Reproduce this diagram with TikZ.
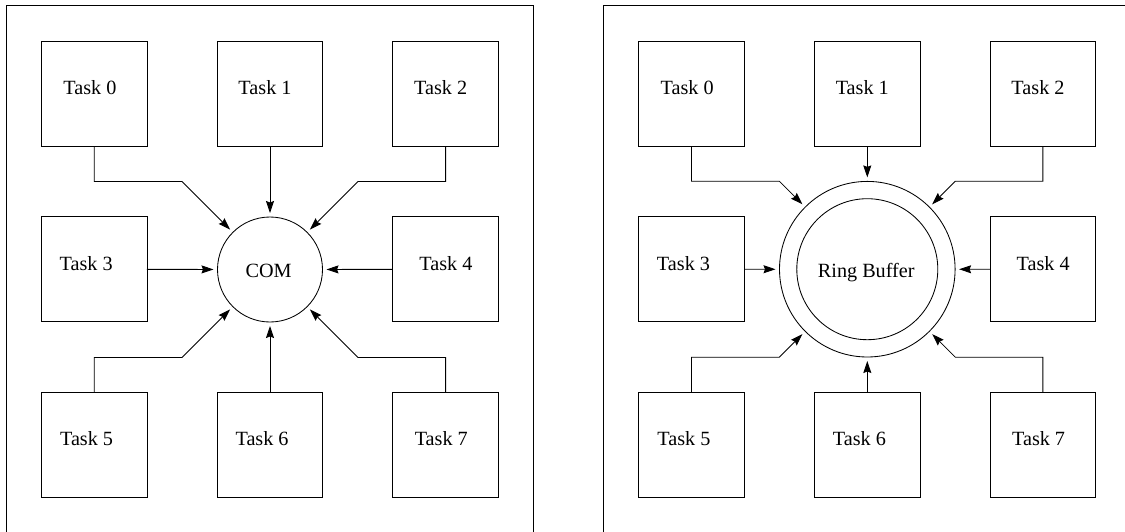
\documentclass[tikz,border=0pt]{standalone}
\usepackage{fontspec}
\setmainfont{Liberation Serif}
\usetikzlibrary{arrows.meta,calc}
\begin{document}
\begin{tikzpicture}[x=1pt,y=-1pt,line width=0.85pt,
  box/.style={draw,minimum width=105.5pt,minimum height=105pt,inner sep=0pt,outer sep=0pt},
  hub/.style={draw,circle,inner sep=0pt,outer sep=0pt},
  lbl/.style={inner sep=0pt,anchor=base west,font=\fontsize{20.2}{24}\selectfont},
  arr/.style={-{Stealth[length=12pt,width=8pt,inset=1.5pt]},shorten >=4pt}]
\clip (0,0) rectangle (1125,531);
% panel frames
\draw (6,5.3) rectangle (533.3,570);
\draw (603.3,5.3) rectangle (1140,570);
% hubs
\node[hub,minimum size=105pt] (com) at (270,269.5) {};
\node[hub,minimum size=175.6pt] (ring) at (867.3,269.2) {};
\node[hub,minimum size=141pt] (ringin) at (867.3,269.2) {};
\node[lbl] (comtxt) at (245.2,277) {COM};
\node[lbl] (ringtxt) at (817.5,277) {Ring Buffer};
% task boxes and labels
\foreach \p/\dx in {t/0,r/597.3}{
  \node[box] (\p0) at (94.2+\dx,93.6) {};
  \node[box] (\p1) at (270+\dx,93.6) {};
  \node[box] (\p2) at (445.6+\dx,93.6) {};
  \node[box] (\p3) at (94.2+\dx,269.3) {};
  \node[box] (\p4) at (445.6+\dx,269.3) {};
  \node[box] (\p5) at (94.2+\dx,445.1) {};
  \node[box] (\p6) at (270+\dx,445.1) {};
  \node[box] (\p7) at (445.6+\dx,445.1) {};
  \node[lbl] (\p-l0) at ($(\p0.west)+(21.5,0.5)$) {Task 0};
  \node[lbl] (\p-l1) at ($(\p1.west)+(20.8,0.5)$) {Task 1};
  \node[lbl] (\p-l2) at ($(\p2.west)+(20.9,0.5)$) {Task 2};
  \node[lbl] (\p-l3) at ($(\p3.west)+(17.8,0.7)$) {Task 3};
  \node[lbl] (\p-l4) at ($(\p4.west)+(26.1,0.7)$) {Task 4};
  \node[lbl] (\p-l5) at ($(\p5.west)+(18.2,0)$) {Task 5};
  \node[lbl] (\p-l6) at ($(\p6.west)+(17.9,0)$) {Task 6};
  \node[lbl] (\p-l7) at ($(\p7.west)+(21.5,0)$) {Task 7};
}
% connectors
\foreach \p/\h in {t/com,r/ring}{
  \coordinate (\p k0) at ($(\h)+(-88,-88)$);
  \coordinate (\p k2) at ($(\h)+(88,-88)$);
  \coordinate (\p k5) at ($(\h)+(-88,88)$);
  \coordinate (\p k7) at ($(\h)+(88,88)$);
  \draw[arr] (\p0.south) |- (\p k0) -- (\h);
  \draw[arr] (\p1) -- (\h);
  \draw[arr] (\p2.south) |- (\p k2) -- (\h);
  \draw[arr] (\p3) -- (\h);
  \draw[arr] (\p4) -- (\h);
  \draw[arr] (\p5.north) |- (\p k5) -- (\h);
  \draw[arr] (\p6) -- (\h);
  \draw[arr] (\p7.north) |- (\p k7) -- (\h);
}
\end{tikzpicture}
\end{document}
